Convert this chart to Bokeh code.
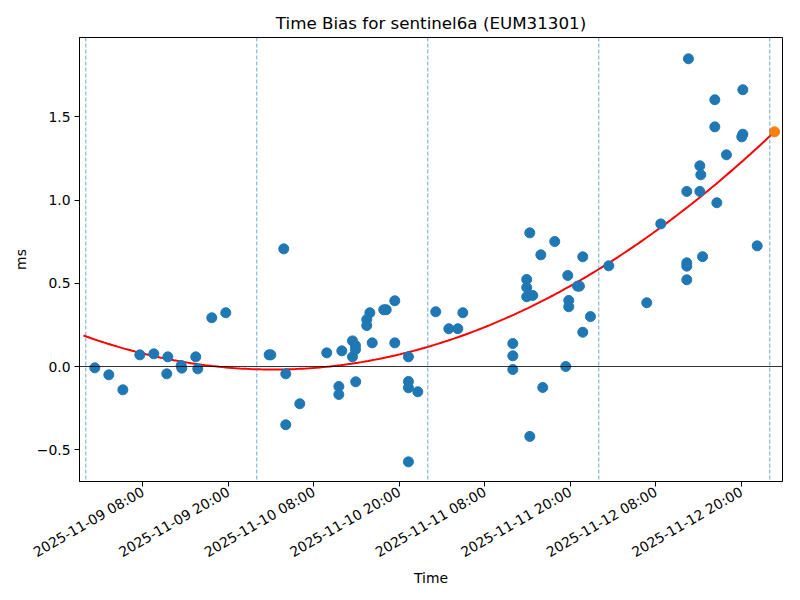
import math
import numpy as np
import pandas as pd
from bokeh.plotting import figure
from bokeh.models import Span, FixedTicker, DatetimeTickFormatter, Range1d, CustomJSTickFormatter
from bokeh.embed import file_html
from bokeh.resources import INLINE

# ---- data ----
times = [
    "2025-11-09 01:16", "2025-11-09 03:14", "2025-11-09 05:12", "2025-11-09 07:35",
    "2025-11-09 09:33", "2025-11-09 11:31", "2025-11-09 11:22", "2025-11-09 13:23",
    "2025-11-09 13:28", "2025-11-09 15:26", "2025-11-09 15:43", "2025-11-09 17:41",
    "2025-11-09 19:39", "2025-11-10 01:44", "2025-11-10 01:58", "2025-11-10 03:47",
    "2025-11-10 04:04", "2025-11-10 04:04", "2025-11-10 06:02", "2025-11-10 09:49",
    "2025-11-10 11:31", "2025-11-10 11:31", "2025-11-10 11:56", "2025-11-10 13:26",
    "2025-11-10 13:26", "2025-11-10 13:51", "2025-11-10 13:51", "2025-11-10 13:53",
    "2025-11-10 15:26", "2025-11-10 15:26", "2025-11-10 15:52", "2025-11-10 16:12",
    "2025-11-10 17:49", "2025-11-10 18:10", "2025-11-10 19:22", "2025-11-10 19:22",
    "2025-11-10 21:17", "2025-11-10 21:17", "2025-11-10 21:17", "2025-11-10 21:17",
    "2025-11-10 22:36", "2025-11-11 01:07", "2025-11-11 02:57", "2025-11-11 04:13",
    "2025-11-11 04:55", "2025-11-11 11:56", "2025-11-11 11:56", "2025-11-11 11:56",
    "2025-11-11 13:53", "2025-11-11 13:53", "2025-11-11 13:53", "2025-11-11 14:19",
    "2025-11-11 14:19", "2025-11-11 14:44", "2025-11-11 15:52", "2025-11-11 16:08",
    "2025-11-11 17:49", "2025-11-11 19:22", "2025-11-11 19:39", "2025-11-11 19:47",
    "2025-11-11 19:47", "2025-11-11 21:01", "2025-11-11 21:17", "2025-11-11 21:45",
    "2025-11-11 21:45", "2025-11-11 22:50", "2025-11-12 01:24", "2025-11-12 06:44",
    "2025-11-12 08:42", "2025-11-12 12:21", "2025-11-12 12:21", "2025-11-12 12:21",
    "2025-11-12 12:21", "2025-11-12 12:35", "2025-11-12 14:11", "2025-11-12 14:19",
    "2025-11-12 14:11", "2025-11-12 14:34", "2025-11-12 16:17", "2025-11-12 16:17",
    "2025-11-12 16:34", "2025-11-12 17:55", "2025-11-12 20:04", "2025-11-12 20:13",
    "2025-11-12 20:13", "2025-11-12 22:14",
]
values = [
    -0.008, -0.05, -0.14, 0.07,
    0.076, 0.058, -0.044, 0.006,
    -0.01, 0.058, -0.014, 0.293,
    0.323, 0.07, 0.07, 0.707,
    -0.044, -0.35, -0.224, 0.082,
    -0.12, -0.168, 0.094, 0.154,
    0.058, 0.126, 0.102, -0.092,
    0.282, 0.246, 0.323, 0.142,
    0.341, 0.341, 0.395, 0.142,
    0.058, -0.09, -0.128, -0.573,
    -0.152, 0.329, 0.227, 0.227,
    0.323, 0.138, 0.064, -0.018,
    0.523, 0.475, 0.419, 0.803,
    -0.42, 0.427, 0.671, -0.126,
    0.751, 0.0, 0.547, 0.397,
    0.359, 0.483, 0.483, 0.659,
    0.206, 0.3, 0.605, 0.383,
    0.857, 1.052, 0.623, 0.603,
    0.521, 1.849, 1.206, 1.152,
    1.052, 0.66, 1.603, 1.44,
    0.984, 1.272, 1.38, 1.396,
    1.663, 0.725,
]
pred_time = "2025-11-13 00:40"
pred_value = 1.41

# quadratic fit (hours since fit_origin)
fit_origin = "2025-11-09 00:00"
fit_start = "2025-11-08 23:41"
fit_end = "2025-11-13 00:40"
fit_coef = [0.0002883, -0.01515, 0.1811]

day_lines = ["2025-11-09 00:00", "2025-11-10 00:00", "2025-11-11 00:00",
             "2025-11-12 00:00", "2025-11-13 00:00"]
x_ticks = ["2025-11-09 08:00", "2025-11-09 20:00", "2025-11-10 08:00",
           "2025-11-10 20:00", "2025-11-11 08:00", "2025-11-11 20:00",
           "2025-11-12 08:00", "2025-11-12 20:00"]
y_ticks = [-0.5, 0.0, 0.5, 1.0, 1.5]
x_limits = ["2025-11-08 23:07", "2025-11-13 01:47"]
y_limits = [-0.691, 1.977]

title = "Time Bias for sentinel6a (EUM31301)"
x_label = "Time"
y_label = "ms"


def ms(s):
    return pd.Timestamp(s).value / 1e6


FONT = "DejaVu Sans"

p = figure(width=800, height=600, x_axis_type="datetime",
           output_backend="svg", toolbar_location=None,
           x_range=Range1d(ms(x_limits[0]), ms(x_limits[1])),
           y_range=Range1d(y_limits[0], y_limits[1]),
           min_border_left=79, min_border_right=18,
           min_border_top=37, min_border_bottom=119)

p.title.text = title
p.title.text_font = FONT
p.title.text_font_size = "16.7px"
p.title.text_font_style = "normal"
p.title.text_color = "black"
p.title.align = "center"

p.xgrid.visible = False
p.ygrid.visible = False
p.outline_line_color = "black"
p.outline_line_width = 1
p.outline_line_alpha = 1

for ax in (p.xaxis[0], p.yaxis[0]):
    ax.axis_line_color = "black"
    ax.major_tick_line_color = "black"
    ax.major_tick_out = 5
    ax.major_tick_in = 0
    ax.minor_tick_out = 0
    ax.minor_tick_in = 0
    ax.major_label_text_font = FONT
    ax.major_label_text_font_size = "13.9px"
    ax.major_label_text_color = "black"
    ax.axis_label_text_font = FONT
    ax.axis_label_text_font_size = "13.9px"
    ax.axis_label_text_font_style = "normal"
    ax.axis_label_text_color = "black"
    ax.major_label_standoff = 4

p.xaxis[0].ticker = FixedTicker(ticks=[ms(t) for t in x_ticks])
fmt = "%Y-%m-%d %H:%M"
p.xaxis[0].formatter = DatetimeTickFormatter(
    microseconds=fmt, milliseconds=fmt, seconds=fmt, minsec=fmt, minutes=fmt,
    hourmin=fmt, hours=fmt, days=fmt, months=fmt, years=fmt)
p.xaxis[0].major_label_orientation = math.pi / 6
p.xaxis[0].axis_label = x_label
p.xaxis[0].axis_label_standoff = 0

p.yaxis[0].ticker = FixedTicker(ticks=y_ticks)
p.yaxis[0].formatter = CustomJSTickFormatter(
    code="return tick < 0 ? '\u2212' + Math.abs(tick).toFixed(1) : tick.toFixed(1);")
p.yaxis[0].axis_label = y_label
p.yaxis[0].axis_label_standoff = 5

# vertical dashed day lines
for d in day_lines:
    p.add_layout(Span(location=ms(d), dimension="height", line_color="#1f77b4",
                      line_width=0.8, line_alpha=0.8, line_dash="4 2"))

# zero line
p.add_layout(Span(location=0, dimension="width", line_color="black", line_width=0.8))

# fit curve
t0 = ms(fit_origin)
xs = np.linspace(ms(fit_start), ms(fit_end), 200)
hrs = (xs - t0) / 3.6e6
ys = np.polyval(fit_coef, hrs)
p.line(xs, ys, line_color="red", line_width=2)

# data points
p.scatter([ms(t) for t in times], values, size=10, fill_color="#1f77b4",
          line_color="#1f77b4")
p.scatter([ms(pred_time)], [pred_value], size=10, fill_color="#ff7f0e",
          line_color="#ff7f0e")

open("out.html", "w").write(file_html(p, INLINE))
